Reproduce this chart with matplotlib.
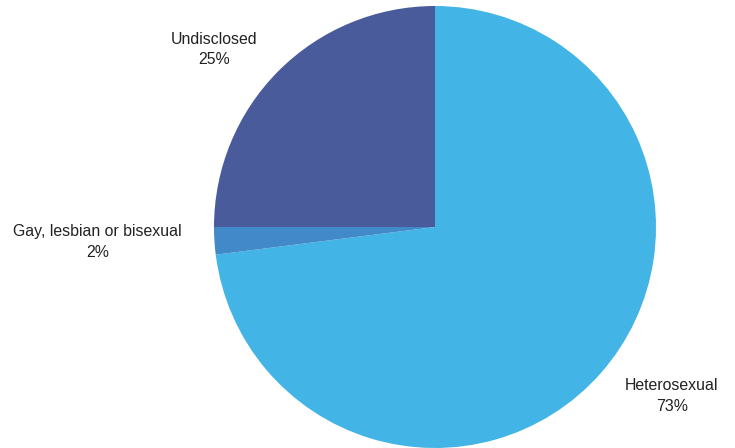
import matplotlib
matplotlib.use("Agg")
import matplotlib.pyplot as plt

# orientation breakdown, percent of respondents
categories = ["Heterosexual", "Gay, lesbian or bisexual", "Undisclosed"]
shares = [73, 2, 25]
colors = ["#42B4E6", "#4189C8", "#4A5B9C"]

# label anchor points, in units of pie radius
label_x = [1.072, -1.527, -1.0]
label_y = [-0.765, -0.068, 0.803]

plt.rcParams["font.family"] = ["Liberation Sans", "DejaVu Sans"]

fig = plt.figure(figsize=(7.35, 4.48), dpi=100)
ax = fig.add_axes([(435 - 221) / 735, 0.0, 442 / 735, 442 / 448])
ax.pie(shares, colors=colors, startangle=90, counterclock=False, radius=1.0,
       wedgeprops=dict(linewidth=0))
ax.set_xlim(-1, 1)
ax.set_ylim(-1, 1)
ax.set_aspect("equal")
ax.axis("off")

for name, val, x, y in zip(categories, shares, label_x, label_y):
    ax.text(x, y, f"{name}\n{val}%", ha="center", va="center",
            fontsize=11.4, color="#222222", linespacing=1.45, clip_on=False)

fig.savefig("out.png", dpi=100)
